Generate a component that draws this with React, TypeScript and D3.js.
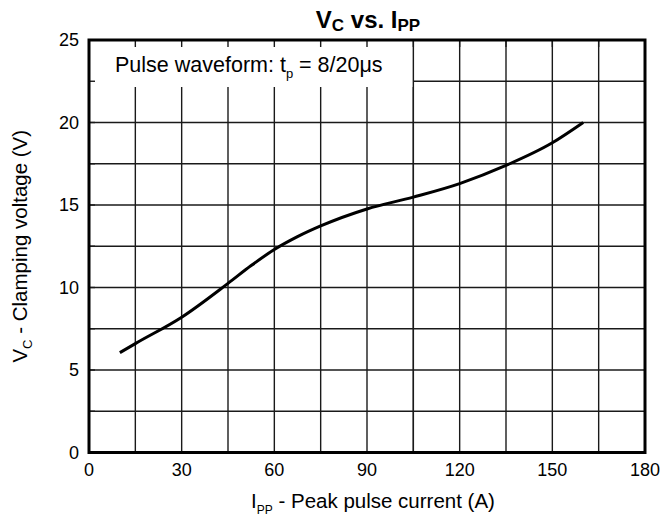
import React from 'react';
import * as d3 from 'd3';

// values
const currentA = [10, 15, 30, 45, 52.5, 60, 67.5, 75, 90, 105, 120, 135, 150, 160];
const clampV = [6.05, 6.6, 8.2, 10.25, 11.33, 12.3, 13.08, 13.73, 14.76, 15.48, 16.3, 17.4, 18.77, 20.0];

const xTicks = [0, 30, 60, 90, 120, 150, 180];
const yTicks = [0, 5, 10, 15, 20, 25];
const xGrid = d3.range(0, 181, 15);
const yGrid = d3.range(0, 25.01, 2.5);

const W = 662;
const H = 522;
const margin = { top: 40, right: 17, bottom: 69.5, left: 89 };

const App = () => {
  const x = d3.scaleLinear().domain([0, 180]).range([margin.left, W - margin.right]);
  const y = d3.scaleLinear().domain([0, 25]).range([H - margin.bottom, margin.top]);

  const pts: [number, number][] = currentA.map((c, i) => [c, clampV[i]]);
  const line = d3.line<[number, number]>()
    .x(d => x(d[0]))
    .y(d => y(d[1]))
    .curve(d3.curveMonotoneX);

  const font = 'Arial, "Liberation Sans", sans-serif';
  const gridColor = '#1a1a1a';

  return (
    <svg width={W} height={H} style={{ position: 'absolute', left: 0, top: 0, background: '#fff' }} fontFamily={font}>
      <rect x={0} y={0} width={W} height={H} fill="#fff" />

      {/* grid */}
      {xGrid.map(v => (
        <line key={'gx' + v} x1={x(v)} x2={x(v)} y1={y(25)} y2={y(0)} stroke={gridColor} strokeWidth={1.4} />
      ))}
      {yGrid.map(v => (
        <line key={'gy' + v} x1={x(0)} x2={x(180)} y1={y(v)} y2={y(v)} stroke={gridColor} strokeWidth={1.4} />
      ))}

      {/* legend box hides grid */}
      <rect x={x(0)} y={y(25)} width={x(105) - x(0)} height={87 - y(25)} fill="#fff" />
      <line x1={x(105)} x2={x(105)} y1={y(25)} y2={y(0)} stroke={gridColor} strokeWidth={1.4} />

      {/* inward tick stubs */}
      {xGrid.map(v => (
        <line key={'tx' + v} x1={x(v)} x2={x(v)} y1={y(25)} y2={y(25) + 7} stroke={gridColor} strokeWidth={1.4} />
      ))}
      {yGrid.map(v => (
        <line key={'ty' + v} x1={x(0)} x2={x(0) + 6} y1={y(v)} y2={y(v)} stroke={gridColor} strokeWidth={1.4} />
      ))}

      {/* frame */}
      <rect x={x(0)} y={y(25)} width={x(180) - x(0)} height={y(0) - y(25)} fill="none" stroke="#000" strokeWidth={3} />

      {/* curve */}
      <path d={line(pts) || ''} fill="none" stroke="#000" strokeWidth={3} strokeLinecap="butt" />

      {/* legend */}
      <text x={115} y={72} fontSize={21.5} fill="#000">
        Pulse waveform: t<tspan fontSize={13} dy={6}>p</tspan>
        <tspan dy={-6}> = 8/20μs</tspan>
      </text>

      {/* tick labels */}
      {xTicks.map(v => (
        <text key={'lx' + v} x={x(v)} y={476} textAnchor="middle" fontSize={18} fill="#000">{v}</text>
      ))}
      {yTicks.map(v => (
        <text key={'ly' + v} x={79} y={y(v) + 6} textAnchor="end" fontSize={18} fill="#000">{v}</text>
      ))}

      {/* title */}
      <text x={368} y={28} textAnchor="middle" fontSize={24} fontWeight="bold" fill="#000">
        V<tspan fontSize={17} dy={3}>C</tspan>
        <tspan dy={-3}> vs. I</tspan>
        <tspan fontSize={17} dy={3}>PP</tspan>
      </text>

      {/* axis titles */}
      <text x={373} y={508} textAnchor="middle" fontSize={20.5} fill="#000">
        I<tspan fontSize={12} dy={6}>PP</tspan>
        <tspan dy={-6}> - Peak pulse current (A)</tspan>
      </text>
      <text transform={`translate(27, ${(y(0) + y(25)) / 2}) rotate(-90)`} textAnchor="middle" fontSize={20.5} fill="#000">
        V<tspan fontSize={13} dy={5}>C</tspan>
        <tspan dy={-5}> - Clamping voltage (V)</tspan>
      </text>
    </svg>
  );
};

export default App;
